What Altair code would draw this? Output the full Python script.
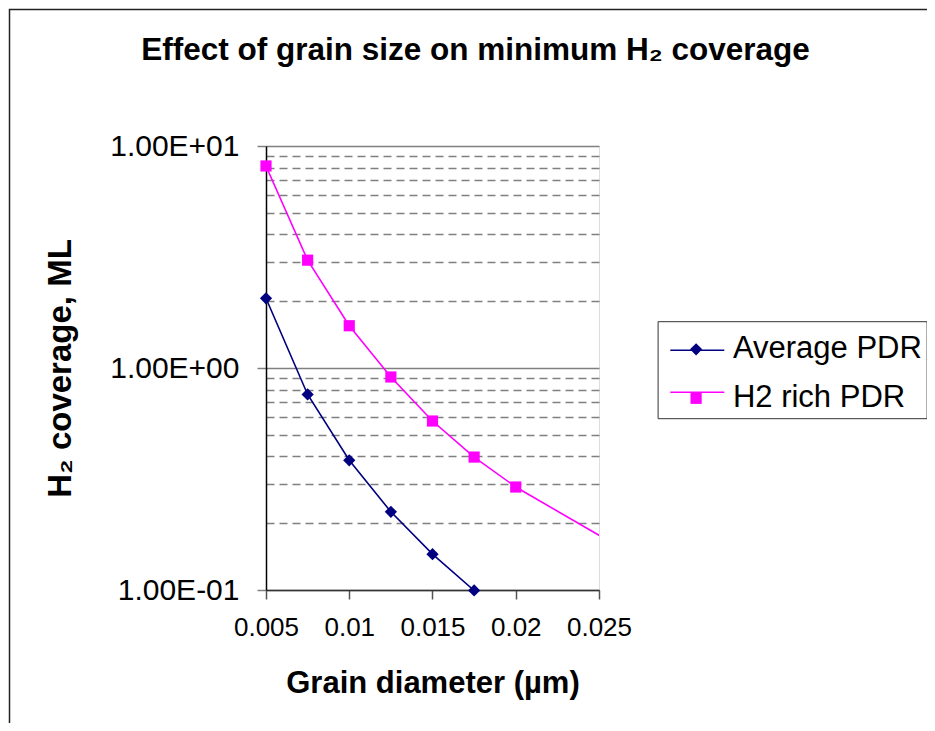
import altair as alt
import pandas as pd

FONT = "Liberation Sans, Arial, sans-serif"

# ---- data ----
series_names = ["Average PDR", "H2 rich PDR"]
series_colors = ["#000080", "#FF00FF"]
series_shapes = ["diamond", "square"]
series_sizes = [150, 125]

x_avg = [0.005, 0.0075, 0.01, 0.0125, 0.015, 0.0175, 0.02]
y_avg = [2.06, 0.76, 0.384, 0.225, 0.145, 0.0995, 0.075]

x_rich = [0.005, 0.0075, 0.01, 0.0125, 0.015, 0.0175, 0.02, 0.03]
y_rich = [8.13, 3.06, 1.55, 0.911, 0.577, 0.397, 0.291, 0.107]

x_ticks = [0.005, 0.01, 0.015, 0.02, 0.025]
y_major = [0.1, 1, 10]
y_major_labels = ["1.00E-01", "1.00E+00", "1.00E+01"]
y_minor = [0.2, 0.3, 0.4, 0.5, 0.6, 0.7, 0.8, 0.9, 2, 3, 4, 5, 6, 7, 8, 9]

# separate key for the line legend so it is not merged with the marker legend
line_keys = [n + " (line)" for n in series_names]

df = pd.concat([
    pd.DataFrame({"x": x_avg, "value": y_avg, "series": series_names[0], "line_key": line_keys[0]}),
    pd.DataFrame({"x": x_rich, "value": y_rich, "series": series_names[1], "line_key": line_keys[1]}),
], ignore_index=True)

major_test = " || ".join(f"abs(datum.value - {v}) < 1e-9" for v in y_major)
label_expr = " : ".join(
    f"abs(datum.value - {v}) < 1e-9 ? '{l}'" for v, l in zip(y_major, y_major_labels)
) + " : ''"

x_scale = alt.Scale(domain=[0.005, 0.025], nice=False, zero=False)
y_scale = alt.Scale(type="log", domain=[0.1, 10], nice=False)
color_scale = alt.Scale(domain=series_names, range=series_colors)
line_scale = alt.Scale(domain=line_keys, range=series_colors)

x_enc = alt.X(
    "x:Q", scale=x_scale,
    axis=alt.Axis(
        values=x_ticks, format="~g", grid=False,
        labelFlush=False, labelOverlap=False, labelBound=False,
        title="Grain diameter (µm)", titleFont=FONT, titleFontSize=31,
        titleFontWeight="bold", titleColor="black",
        titleBaseline="alphabetic", titleY=102,
        labelFont=FONT, labelFontSize=26, labelColor="black",
        labelPadding=15, tickSize=9, tickColor="#555555", tickWidth=1.5,
        domainColor="#333333", domainWidth=1.5,
    ),
)
y_enc = alt.Y(
    "value:Q", scale=y_scale,
    axis=alt.Axis(
        values=y_major + y_minor, labelExpr=label_expr,
        labelFlush=False, labelOverlap=False, labelBound=False,
        title="H₂ coverage, ML", titleFont=FONT, titleFontSize=33,
        titleFontWeight="bold", titleColor="black", titleAngle=270,
        titleBaseline="alphabetic", titleX=-196,
        labelFont=FONT, labelFontSize=30, labelColor="black",
        labelPadding=18, tickSize=9, tickColor="#808080", tickWidth=1.5,
        tickOpacity=alt.condition(major_test, alt.value(1), alt.value(0)),
        grid=True, gridColor="#808080", gridWidth=1.5,
        gridDash=alt.condition(major_test, alt.value([]), alt.value([8, 5])),
        domainColor="#000000", domainWidth=1.5,
    ),
)

# legend of the line segments (no labels, no frame) ...
leg_lines = alt.Legend(
    orient="none", legendX=403.3, legendY=176.3,
    title=None, padding=0, rowPadding=10,
    symbolType="stroke", symbolSize=2916, symbolStrokeWidth=1.6,
    labelFontSize=1, labelOpacity=0, labelOffset=0,
    strokeColor="transparent", zindex=1,
)
# ... overlaid by the legend of markers + labels + frame
leg_markers = alt.Legend(
    orient="none", legendX=391.6, legendY=175.2,
    title=" ", titleFontSize=1, titlePadding=7.6,
    padding=4, rowPadding=17, symbolSize=130, symbolOffset=19,
    symbolStrokeWidth=0, symbolOpacity=1,
    labelOffset=21.3, labelFont=FONT, labelFontSize=31, labelColor="black",
    labelLimit=500, strokeColor="#333333", zindex=2,
)

base = alt.Chart(df)

lines = base.mark_line(clip=True, strokeWidth=1.6).encode(
    x=x_enc, y=y_enc,
    stroke=alt.Stroke("line_key:N", scale=line_scale, legend=leg_lines),
    detail="series:N",
)

markers = base.transform_filter(
    "datum.value >= 0.098 && datum.x <= 0.0251"
).mark_point(filled=True, opacity=1, strokeWidth=0).encode(
    x=alt.X("x:Q", scale=x_scale),
    y=alt.Y("value:Q", scale=y_scale),
    color=alt.Color("series:N", scale=color_scale, legend=leg_markers),
    shape=alt.Shape("series:N", scale=alt.Scale(domain=series_names, range=series_shapes),
                    legend=leg_markers),
    size=alt.Size("series:N", scale=alt.Scale(domain=series_names, range=series_sizes),
                  legend=None),
)

frame = alt.Chart(pd.DataFrame({"a": [0]})).mark_rect(
    filled=False, stroke="#222222", strokeWidth=1.5
).encode(
    x=alt.value(-256.5), x2=alt.value(900),
    y=alt.value(-136.5), y2=alt.value(900),
)

chart = alt.layer(frame, lines, markers).properties(
    width=333, height=444,
    autosize=alt.AutoSizeParams(type="none"),
    padding={"left": 258, "top": 138, "right": 328, "bottom": 133},
    title=alt.Title(
        text="Effect of grain size on minimum H₂ coverage",
        font=FONT, fontSize=31.5, fontWeight="bold", color="black",
        anchor="middle", frame="group", dx=43, offset=-83, baseline="alphabetic",
    ),
).configure_view(
    stroke="#808080", strokeWidth=1.5
).configure(background="white")

chart.save("out.html", embed_options={"renderer": "svg", "actions": False})
